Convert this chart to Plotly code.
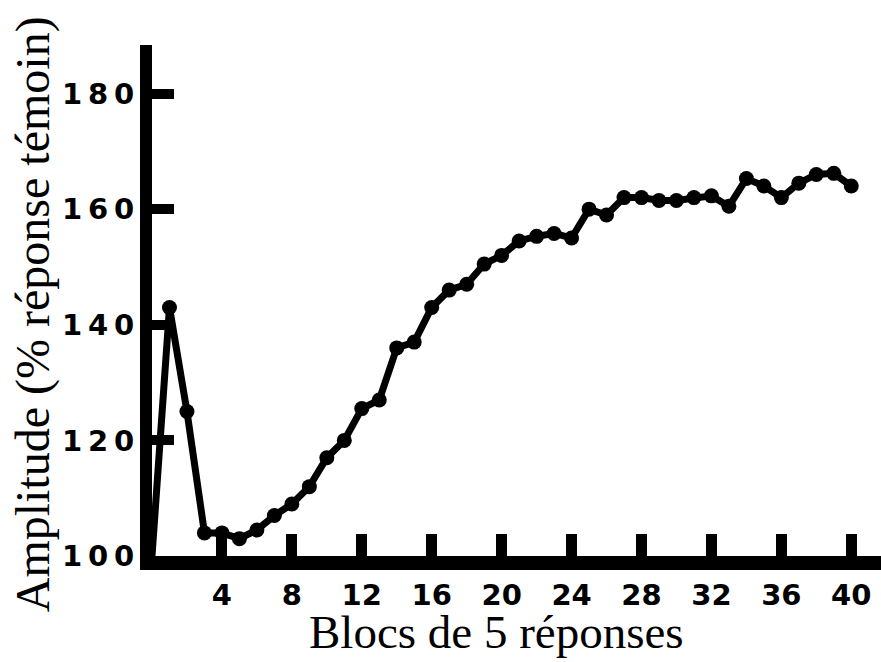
import plotly.graph_objects as go

# Data
blocks = list(range(0, 41))
amplitude = [100, 143, 125, 104, 104, 103, 104.5, 107, 109, 112, 117,
             120, 125.5, 127, 136, 137, 143, 146, 147, 150.5, 152,
             154.5, 155.3, 155.8, 155, 160, 159, 162, 162, 161.5, 161.5,
             162, 162.3, 160.5, 165.3, 164, 162, 164.5, 166, 166.2, 164]

x_tick_vals = [4, 8, 12, 16, 20, 24, 28, 32, 36, 40]
x_tick_labels = ["4", "8", "12", "16", "20", "24", "28", "32", "36", "40"]
y_tick_vals = [100, 120, 140, 160, 180]
y_tick_labels = ["1\u20090\u20090", "1\u20092\u20090", "1\u20094\u20090", "1\u20096\u20090", "1\u20098\u20090"]

x_title = "Blocs de 5 réponses"
y_title = "Amplitude (% réponse témoin)"

marker_sizes = [0] + [15] * (len(blocks) - 1)

fig = go.Figure()
fig.add_trace(go.Scatter(
    x=blocks, y=amplitude, mode="lines+markers",
    line=dict(color="black", width=7),
    marker=dict(color="black", size=marker_sizes, opacity=1,
                line=dict(width=0)),
    cliponaxis=False, showlegend=False, hoverinfo="skip",
))

tick_font = dict(family="DejaVu Sans", size=29, color="black", weight="bold")

fig.update_layout(
    width=881, height=662,
    margin=dict(l=152, r=0, t=45, b=106),
    paper_bgcolor="white", plot_bgcolor="white",
    xaxis=dict(
        range=[0, 41.7], showgrid=False, zeroline=False,
        showline=True, linecolor="black", linewidth=14,
        ticks="inside", ticklen=22, tickwidth=11, tickcolor="black",
        tickvals=x_tick_vals, ticktext=x_tick_labels, tickfont=tick_font,
    ),
    yaxis=dict(
        range=[100, 188.4], showgrid=False, zeroline=False,
        showline=True, linecolor="black", linewidth=12,
        ticks="inside", ticklen=22, tickwidth=10, tickcolor="black",
        tickvals=y_tick_vals, ticktext=y_tick_labels, tickfont=tick_font,
    ),
    annotations=[
        dict(text=x_title, xref="paper", yref="paper", x=0.473, y=-0.148,
             xanchor="center", yanchor="middle", showarrow=False,
             font=dict(family="Liberation Serif", size=47, color="black")),
        dict(text=y_title, xref="paper", yref="paper", x=-0.164, y=0.474,
             xanchor="center", yanchor="middle", showarrow=False, textangle=-90,
             font=dict(family="Liberation Serif", size=48, color="black")),
    ],
)

fig.write_html(
    "out.html",
    config={"displayModeBar": False},
    post_script="document.body.style.margin='0';document.body.style.overflow='hidden';",
)
